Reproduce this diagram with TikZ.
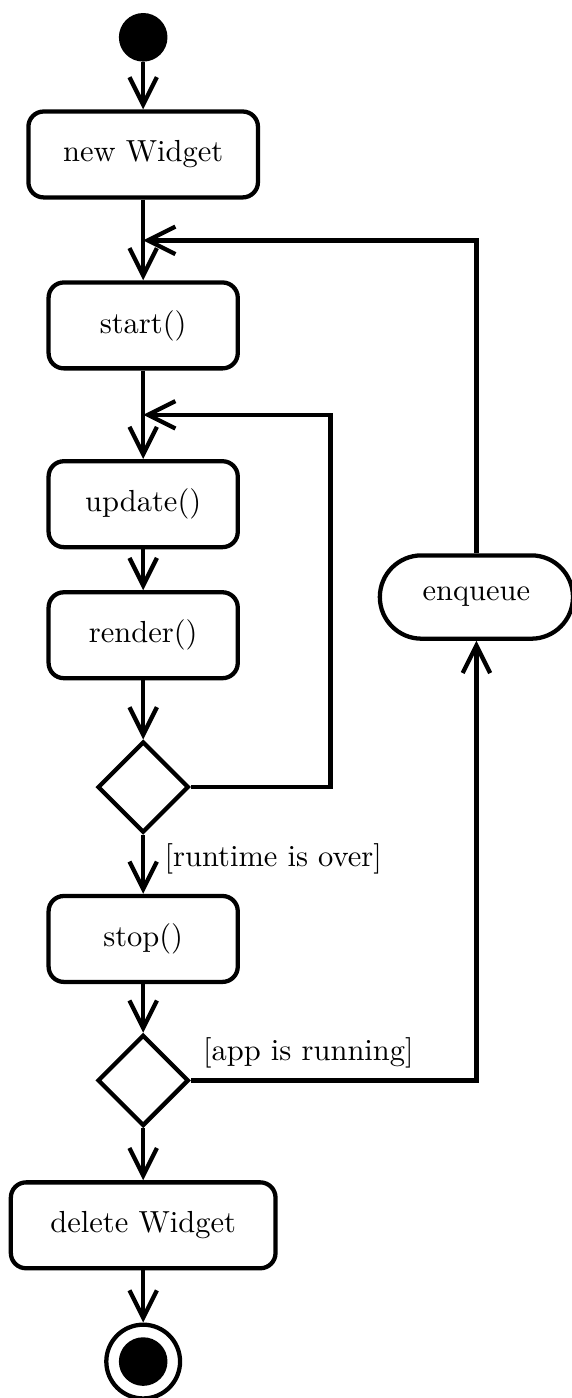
\documentclass[tikz,border=0pt]{standalone}
\usepackage{tikz}
\usetikzlibrary{arrows.meta,positioning,shapes.geometric,shapes.misc}

\begin{document}
\begin{tikzpicture}[
        box/.style={draw, line width=1.4pt, rounded corners=5pt, minimum width=2.18cm, minimum height=0.99cm, inner xsep=0.4cm, align=center},
        decision/.style={diamond, draw, line width=1.4pt, minimum width=1.05cm, minimum height=1.05cm, inner sep=0pt},
        pill/.style={rounded rectangle, draw, line width=1.4pt, minimum width=2.46cm, minimum height=0.96cm},
        arrow/.style={-{Straight Barb[length=9pt,width=9pt]}, line width=1.4pt}
    ]
        \useasboundingbox (0,0) rectangle (6.58,-16.11);

        % 起点
        \node[circle, fill, minimum size=0.56cm, inner sep=0pt] (init) at (1.65,-0.43) {};

        % 主流程
        \node[box] (new) at (1.65,-1.78) {new Widget};
        \node[box] (start) at (1.65,-3.75) {start()};
        \node[box] (update) at (1.65,-5.81) {update()};
        \node[box] (render) at (1.65,-7.32) {render()};
        \node[decision] (d1) at (1.65,-9.07) {};
        \node[box] (stop) at (1.65,-10.82) {stop()};
        \node[decision] (d2) at (1.65,-12.45) {};
        \node[box, minimum width=3.05cm] (del) at (1.65,-14.12) {delete Widget};

        % 终点
        \node[circle, draw, line width=1.4pt, minimum size=0.85cm, inner sep=0pt,
              path picture={\fill (path picture bounding box.center) circle (0.28cm);}] (final) at (1.65,-15.69) {};

        % 右侧
        \node[pill] (enq) at (5.49,-6.88) {enqueue};

        % 回路上的点
        \coordinate (outerin) at (1.65,-2.77);
        \coordinate (loopin) at (1.65,-4.78);
        \coordinate (loopcorner) at (3.81,-4.78);

        \draw[arrow] (init) -- (new);
        \draw[arrow] (new) -- (start);
        \draw[arrow] (start) -- (update);
        \draw[arrow] (update) -- (render);
        \draw[arrow] (render) -- (d1);
        \draw[arrow] (d1) -- node[right, pos=0.4, xshift=3pt] {[runtime is over]} (stop);
        \draw[arrow] (stop) -- (d2);
        \draw[arrow] (d2) -- (del);
        \draw[arrow] (del) -- (final);

        \draw[arrow] (d1.east) -| (loopcorner) -- (loopin);
        \draw[arrow] (d2.east) node[anchor=south west] {[app is running]} -| (enq.south);
        \draw[arrow] (enq.north) |- (outerin);
    \end{tikzpicture}
\end{document}
